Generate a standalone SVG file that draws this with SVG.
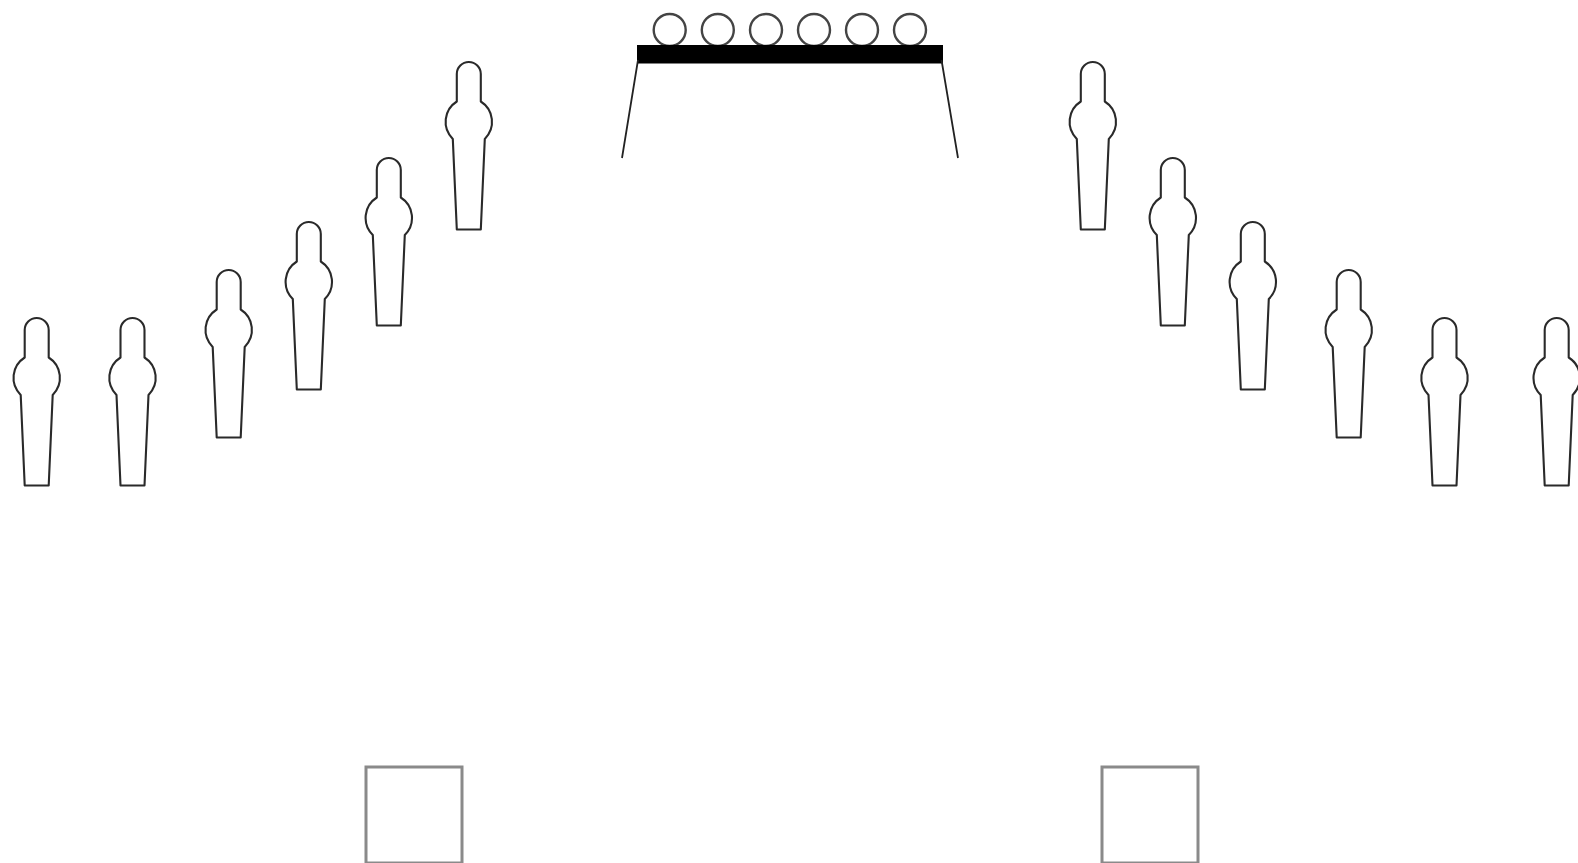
<svg xmlns="http://www.w3.org/2000/svg" xmlns:xlink="http://www.w3.org/1999/xlink" width="1578" height="863" viewBox="0 0 1578 863">
<style>
.o{fill:#fff;stroke:#2a2a2a;stroke-width:2.1;stroke-linejoin:round}
.c{fill:#fff;stroke:#444;stroke-width:2.4}
.l{fill:none;stroke:#222;stroke-width:1.8}
.s{fill:#fff;stroke:#8a8a8a;stroke-width:3}
</style>
<defs>
<path id="fig" class="o" d="M-12 39.500V12A12 12 0 0 1 12 12V39.500A24 24 0 0 1 16 76.900L12 167.500H-12L-16 76.900A24 24 0 0 1 -12 39.500Z"/>
</defs>
<rect width="1578" height="863" fill="#fff"/>
<g id="player-l1"><use href="#fig" x="36.7" y="318"/></g>
<g id="player-l2"><use href="#fig" x="132.5" y="318"/></g>
<g id="player-l3"><use href="#fig" x="228.700" y="270"/></g>
<g id="player-l4"><use href="#fig" x="308.800" y="222"/></g>
<g id="player-l5"><use href="#fig" x="388.800" y="158"/></g>
<g id="player-l6"><use href="#fig" x="468.800" y="62"/></g>
<g id="player-r1"><use href="#fig" x="1092.800" y="62"/></g>
<g id="player-r2"><use href="#fig" x="1172.800" y="158"/></g>
<g id="player-r3"><use href="#fig" x="1252.800" y="222"/></g>
<g id="player-r4"><use href="#fig" x="1348.700" y="270"/></g>
<g id="player-r5"><use href="#fig" x="1444.500" y="318"/></g>
<g id="player-r6"><use href="#fig" x="1556.700" y="318"/></g>
<g id="bench">
<circle class="c" cx="669.700" cy="30" r="16"/>
<circle class="c" cx="717.800" cy="30" r="16"/>
<circle class="c" cx="766" cy="30" r="16"/>
<circle class="c" cx="814" cy="30" r="16"/>
<circle class="c" cx="862" cy="30" r="16"/>
<circle class="c" cx="910" cy="30" r="16"/>
<rect x="637" y="45" width="306" height="18.500" fill="#000"/>
<path class="l" d="M638 60L622 158M941.500 60L958 158"/>
</g>
<g id="goal-left"><rect class="s" x="366" y="767" width="96" height="96"/></g>
<g id="goal-right"><rect class="s" x="1102" y="767" width="96" height="96"/></g>
</svg>
